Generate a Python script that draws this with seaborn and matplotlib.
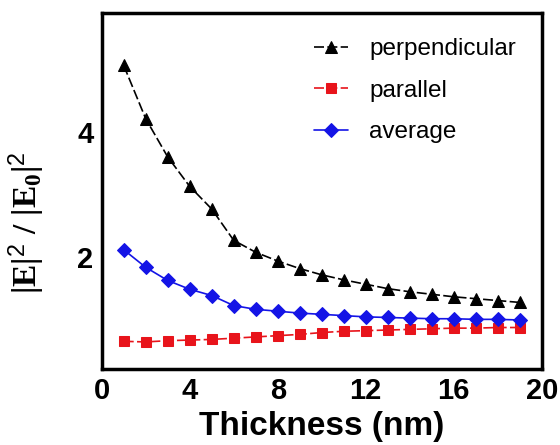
import numpy as np
import pandas as pd
import seaborn as sns
import matplotlib.pyplot as plt

# data
thickness = list(range(1, 20))
perpendicular = [5.06, 4.21, 3.60, 3.13, 2.77, 2.27, 2.08, 1.94, 1.82, 1.72,
                 1.64, 1.57, 1.50, 1.45, 1.41, 1.37, 1.34, 1.31, 1.28]
parallel = [0.66, 0.65, 0.67, 0.68, 0.69, 0.71, 0.73, 0.75, 0.77, 0.80,
            0.82, 0.83, 0.84, 0.85, 0.86, 0.87, 0.87, 0.88, 0.88]
average = [2.12, 1.84, 1.63, 1.49, 1.39, 1.23, 1.17, 1.14, 1.11, 1.09,
           1.07, 1.05, 1.04, 1.03, 1.02, 1.02, 1.01, 1.01, 1.00]

sns.set_style("white")
plt.rcParams["font.family"] = ["Liberation Sans", "DejaVu Sans"]
plt.rcParams["text.color"] = "black"
plt.rcParams["axes.labelcolor"] = "black"
plt.rcParams["xtick.color"] = "black"
plt.rcParams["ytick.color"] = "black"
plt.rcParams["mathtext.fontset"] = "custom"
plt.rcParams["mathtext.rm"] = "Liberation Serif:bold"
plt.rcParams["mathtext.bf"] = "Liberation Serif:bold"
plt.rcParams["mathtext.it"] = "Liberation Serif:bold"
plt.rcParams["mathtext.sf"] = "Liberation Sans"

fig = plt.figure(figsize=(5.6, 4.45), dpi=100)
ax = fig.add_axes([0.1816, 0.171, 0.7857, 0.8005])

sns.lineplot(x=thickness, y=perpendicular, ax=ax, color="black", marker="^",
             markersize=9, markeredgecolor="black", linewidth=1.2,
             label="perpendicular")
sns.lineplot(x=thickness, y=parallel, ax=ax, color="#e8141b", marker="s",
             markersize=7, markeredgecolor="#e8141b", linewidth=1.2,
             label="parallel")
sns.lineplot(x=thickness, y=average, ax=ax, color="#1414e6", marker="D",
             markersize=7, markeredgecolor="#1414e6", linewidth=1.2,
             label="average")
ax.lines[0].set_dashes([6, 2])
ax.lines[1].set_dashes([6, 2])

ax.set_xlim(0, 20)
ax.set_ylim(0.22, 5.9)
ax.set_xticks([0, 4, 8, 12, 16, 20])
ax.set_yticks([2, 4])
ax.tick_params(direction="in", length=5, width=1.5, labelsize=21, pad=6,
               top=False, right=False)
for lab in ax.get_xticklabels() + ax.get_yticklabels():
    lab.set_fontweight("bold")
for sp in ax.spines.values():
    sp.set_linewidth(2.5)
    sp.set_color("black")

ax.set_xlabel("Thickness (nm)", fontsize=24, fontweight="bold", labelpad=4)
ax.set_ylabel(r"$|\mathrm{E}|^{\mathsf{2}}\ /\ |\mathrm{E}_0|^{\mathsf{2}}$",
              fontsize=24)
ax.yaxis.set_label_coords(-0.125, 0.41)

leg = ax.legend(loc="upper right", frameon=False, fontsize=17.5,
                handlelength=1.4, handletextpad=0.9, labelspacing=0.8,
                borderaxespad=0.65)
for t in leg.get_texts():
    t.set_color("black")

fig.savefig("out.png", dpi=100)
